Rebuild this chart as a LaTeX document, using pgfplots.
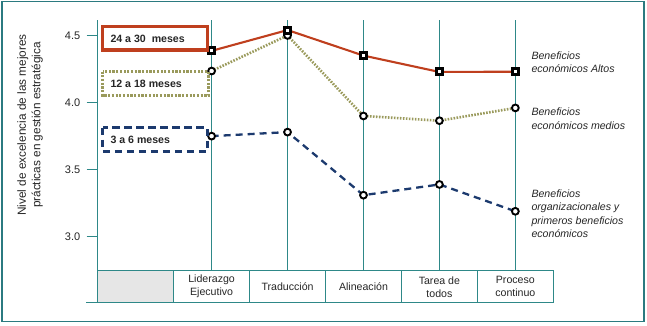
\documentclass[border=0pt]{standalone}
\usepackage{fontspec}
\setmainfont{Liberation Sans}
\usepackage{pgfplots}
\pgfplotsset{compat=1.18}
\definecolor{framec}{HTML}{2B7A80}
\definecolor{gridc}{HTML}{2E8888}
\definecolor{redc}{HTML}{BF3F1E}
\definecolor{olivec}{HTML}{9A9A5C}
\definecolor{navyc}{HTML}{1C3A6E}
\definecolor{cellgray}{HTML}{E6E6E6}
\definecolor{txt}{HTML}{262626}
\begin{document}
\begin{tikzpicture}[x=1bp,y=1bp]
\useasboundingbox (0,0) rectangle (647,-325);
\draw[framec, line width=1.4bp] (2.2,-1.5) rectangle (644,-321.5);
\begin{axis}[
  at={(97.7bp,-302.7bp)}, anchor=south west,
  scale only axis, width=455.6bp, height=282.7bp,
  xmin=-0.5, xmax=5.5, ymin=2.509, ymax=4.615,
  axis x line=none, axis y line*=left,
  y axis line style={-, draw=gridc, line width=0.9bp},
  ytick={3,3.5,4,4.5},
  tick align=outside, major tick length=11bp,
  ytick style={draw=gridc, line width=0.9bp},
  yticklabel style={font=\fontsize{11bp}{13bp}\selectfont, text=txt, xshift=-3bp},
  /pgf/number format/.cd, fixed, fixed zerofill, precision=1, assume math mode=true,
  /pgfplots/.cd,
  clip=false,
  ylabel={},
]
% vertical category lines
\draw[gridc, line width=0.9bp] (axis cs:1,2.747) -- (axis cs:1,4.615);
\draw[gridc, line width=0.9bp] (axis cs:2,2.747) -- (axis cs:2,4.615);
\draw[gridc, line width=0.9bp] (axis cs:3,2.747) -- (axis cs:3,4.615);
\draw[gridc, line width=0.9bp] (axis cs:4,2.747) -- (axis cs:4,4.615);
\draw[gridc, line width=0.9bp] (axis cs:5,2.747) -- (axis cs:5,4.615);
% table
\filldraw[fill=cellgray, draw=gridc, line width=0.9bp] (axis cs:-0.5,2.509) rectangle (axis cs:0.5,2.747);
\draw[gridc, line width=0.9bp] (axis cs:0.5,2.509) rectangle (axis cs:1.5,2.747);
\draw[gridc, line width=0.9bp] (axis cs:1.5,2.509) rectangle (axis cs:2.5,2.747);
\draw[gridc, line width=0.9bp] (axis cs:2.5,2.509) rectangle (axis cs:3.5,2.747);
\draw[gridc, line width=0.9bp] (axis cs:3.5,2.509) rectangle (axis cs:4.5,2.747);
\draw[gridc, line width=0.9bp] (axis cs:4.5,2.509) rectangle (axis cs:5.5,2.747);
\draw[gridc, line width=0.9bp] (axis cs:-0.5,2.509) -- ([xshift=-11.5bp]axis cs:-0.5,2.509);
\begin{scope}[every node/.style={align=center, text=txt, font=\fontsize{10.6bp}{13bp}\selectfont}]
\node at (axis cs:1,2.628) {Liderazgo\\Ejecutivo};
\node at (axis cs:2,2.628) {Traducción};
\node at (axis cs:3,2.628) {Alineación};
\node at (axis cs:4,2.628) {Tarea de\\todos};
\node at (axis cs:5,2.628) {Proceso\\continuo};
\end{scope}
% series
\addplot[navyc, line width=2.3bp, dash pattern=on 7bp off 5bp,
  mark=*, mark size=3.4bp, mark options={solid, fill=white, draw=black, line width=1.9bp}]
  coordinates {(1,3.75) (2,3.78) (3,3.31) (4,3.39) (5,3.19)};
\addplot[olivec, line width=2.6bp, dash pattern=on 1.6bp off 1.4bp,
  mark=*, mark size=3.4bp, mark options={solid, fill=white, draw=black, line width=1.9bp}]
  coordinates {(1,4.235) (2,4.50) (3,3.90) (4,3.865) (5,3.96)};
\addplot[redc, line width=2.1bp,
  mark=square*, mark size=3bp, mark options={solid, fill=white, draw=black, line width=3bp}]
  coordinates {(1,4.385) (2,4.54) (3,4.35) (4,4.228) (5,4.23)};
\end{axis}
% legend boxes
\draw[redc, line width=3.3bp] (102.7,-26.7) rectangle (207.4,-50);
\node[anchor=west, text=txt, font=\bfseries\fontsize{10.6bp}{13bp}\selectfont] at (107,-38.4) {24 a 30\ \ meses};
\draw[olivec, line width=3bp, dash pattern=on 2.2bp off 1.5bp] (102.5,-71.5) rectangle (208.5,-95.5);
\node[anchor=west, text=txt, font=\bfseries\fontsize{10.6bp}{13bp}\selectfont] at (107,-83.5) {12 a 18 meses};
\draw[navyc, line width=3.3bp, dash pattern=on 7.5bp off 4.5bp] (102.7,-127.7) rectangle (207.4,-151.5);
\node[anchor=west, text=txt, font=\bfseries\fontsize{10.6bp}{13bp}\selectfont] at (107,-139.5) {3 a 6 meses};
% right annotations
\begin{scope}[every node/.style={anchor=west, align=left, text=txt, font=\itshape\fontsize{10.6bp}{13.5bp}\selectfont}]
\node at (528,-62) {Beneficios\\económicos Altos};
\node at (528,-118.7) {Beneficios\\económicos medios};
\node at (528,-213.8) {Beneficios\\organizacionales y\\primeros beneficios\\económicos};
\end{scope}
% y label
\node[rotate=90, align=center, text=txt, font=\fontsize{11.8bp}{14.5bp}\selectfont] at (30,-125) {Nivel de excelencia de las mejores\\prácticas en gestión estratégica};
\end{tikzpicture}
\end{document}
